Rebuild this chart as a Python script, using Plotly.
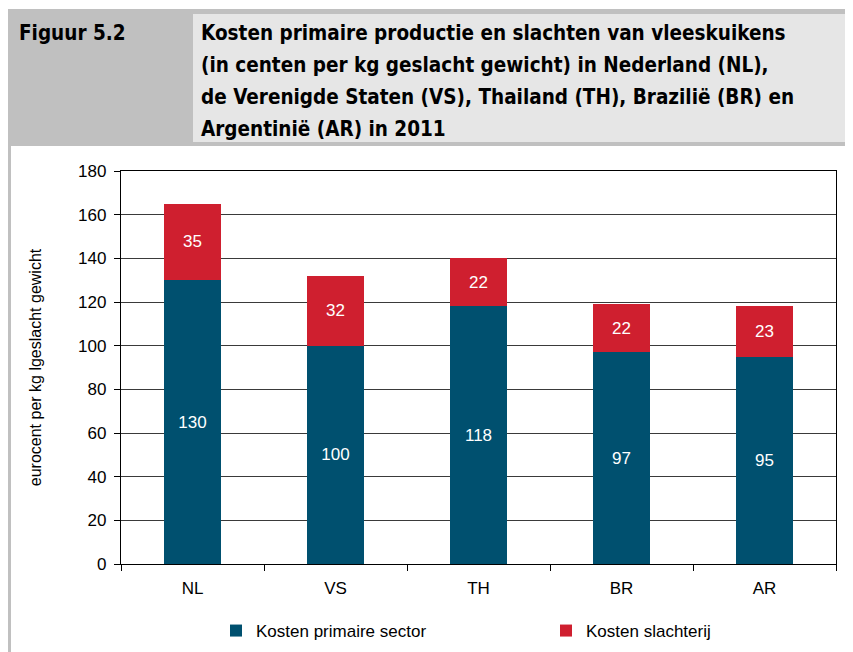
import plotly.graph_objects as go

categories = ["NL", "VS", "TH", "BR", "AR"]
primaire = [130, 100, 118, 97, 95]
slachterij = [35, 32, 22, 22, 23]
series_names = ["Kosten primaire sector", "Kosten slachterij"]
y_title = "eurocent per kg lgeslacht gewicht"
fig_label = "Figuur 5.2"
title_lines = [
    "Kosten primaire productie en slachten van vleeskuikens",
    "(in centen per kg geslacht gewicht) in Nederland (NL),",
    "de Verenigde Staten (VS), Thailand (TH), Brazilië (BR) en",
    "Argentinië (AR) in 2011",
]

OFF = 8  # page body margin
W, H = 853 - OFF, 652 - OFF
L, R, T, B = 113, 17, 163, 88
PW, PH = W - L - R, H - T - B


def px(sx):
    return (sx - OFF - L) / PW


def py(sy):
    return (H - B - (sy - OFF)) / PH


BLUE = "#00506f"
RED = "#cf1f2f"
TICKFONT = "Liberation Sans, Arial, sans-serif"
TITLEFONT = "DejaVu Sans Condensed, Arial Narrow, sans-serif"

fig = go.Figure()
fig.add_trace(go.Bar(x=categories, y=primaire, name=series_names[0],
                     marker=dict(color=BLUE, line=dict(width=0)),
                     text=primaire, textposition="inside", insidetextanchor="middle",
                     textangle=0, constraintext="none",
                     textfont=dict(color="white", size=17, family=TICKFONT),
                     showlegend=True, legend="legend"))
fig.add_trace(go.Bar(x=categories, y=slachterij, name=series_names[1],
                     marker=dict(color=RED, line=dict(width=0)),
                     text=slachterij, textposition="inside", insidetextanchor="middle",
                     textangle=0, constraintext="none",
                     textfont=dict(color="white", size=17, family=TICKFONT),
                     showlegend=True, legend="legend2"))

shapes = [
    dict(type="rect", xref="paper", yref="paper", x0=px(8), x1=px(853), y0=py(146), y1=py(9),
         fillcolor="#c0c0c0", line=dict(width=0), layer="below"),
    dict(type="rect", xref="paper", yref="paper", x0=px(193), x1=px(853), y0=py(142), y1=py(14),
         fillcolor="#e6e6e6", line=dict(width=0), layer="below"),
    dict(type="rect", xref="paper", yref="paper", x0=px(8), x1=px(11), y0=py(652), y1=py(146),
         fillcolor="#c0c0c0", line=dict(width=0), layer="below"),
]

annotations = [
    dict(text="<b>" + fig_label + "</b>", xref="paper", yref="paper", x=px(17), y=py(33),
         xanchor="left", yanchor="middle", showarrow=False,
         font=dict(family=TITLEFONT, size=20.5, color="black")),
]
for i, line in enumerate(title_lines):
    annotations.append(dict(text="<b>" + line + "</b>", xref="paper", yref="paper",
                            x=px(199), y=py(33 + i * 32), xanchor="left", yanchor="middle",
                            showarrow=False, font=dict(family=TITLEFONT, size=20.5, color="black")))

leg_common = dict(orientation="h", yanchor="middle", xanchor="left",
                  font=dict(family=TICKFONT, size=17), bgcolor="rgba(0,0,0,0)")

fig.update_layout(
    width=W, height=H,
    margin=dict(l=L, r=R, t=T, b=B, autoexpand=False),
    paper_bgcolor="white", plot_bgcolor="white",
    barmode="stack", bargap=0.6, showlegend=True,
    font=dict(family=TICKFONT, size=17, color="black"),
    shapes=shapes, annotations=annotations,
    legend=dict(x=px(216), y=py(631), **leg_common),
    legend2=dict(x=px(546), y=py(631), **leg_common),
    xaxis=dict(showline=True, linecolor="black", linewidth=1.3, mirror=True,
               ticks="outside", tickson="boundaries", ticklen=6, tickcolor="black",
               ticklabelstandoff=8,
               tickfont=dict(size=17, family=TICKFONT)),
    yaxis=dict(range=[0, 180], dtick=20, showgrid=True, gridcolor="#3a3a3a", gridwidth=1.3,
               showline=True, linecolor="black", linewidth=1.3, mirror=True,
               ticks="outside", ticklen=6, tickcolor="black", ticklabelstandoff=4,
               tickfont=dict(size=17, family=TICKFONT), zeroline=False,
               title=dict(text=y_title, font=dict(size=16, family=TICKFONT), standoff=32)),
)

fig.write_html("out.html")
